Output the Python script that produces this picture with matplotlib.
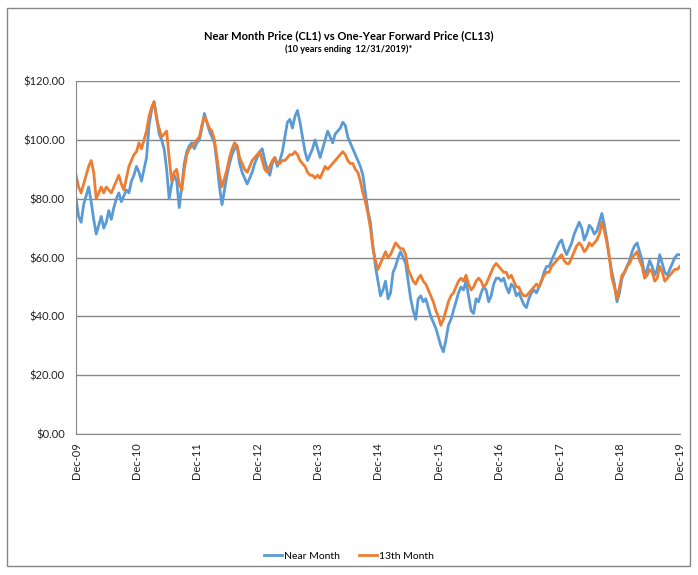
import numpy as np
import pandas as pd
import matplotlib
matplotlib.use('Agg')
import matplotlib.pyplot as plt
import matplotlib.dates as mdates
from matplotlib.patches import Rectangle
from matplotlib.ticker import FuncFormatter

# semi-monthly readings, Dec 2009 .. Dec 2019
near_month = [
    80, 74, 72, 78, 81, 84, 79, 73, 68, 71, 74, 70, 72, 76, 73, 77, 80, 82, 79, 81, 83, 82, 86, 88,
    91, 89, 86, 90, 94, 105, 110, 113, 108, 102, 100, 97, 90, 80, 85, 88, 86, 77, 84, 92, 96, 98, 99, 97,
    99, 100, 104, 109, 106, 103, 101, 99, 92, 84, 78, 83, 88, 92, 95, 97, 98, 92, 89, 87, 85, 87, 89, 92,
    94, 96, 97, 93, 90, 88, 92, 94, 91, 93, 96, 101, 106, 107, 104, 108, 110, 106, 101, 96, 93, 95, 97, 100,
    97, 94, 97, 100, 103, 101, 99, 102, 103, 104, 106, 105, 101, 99, 97, 95, 93, 91, 88, 82, 76, 72, 64, 57,
    52, 47, 49, 52, 46, 48, 55, 57, 60, 62, 60, 58, 52, 46, 42, 39, 46, 47, 45, 46, 43, 40, 38, 36,
    33, 30, 28, 32, 37, 39, 42, 45, 48, 50, 49, 52, 47, 42, 41, 46, 45, 48, 50, 49, 45, 47, 51, 53,
    53, 52, 53, 50, 48, 51, 50, 47, 48, 46, 44, 43, 46, 48, 49, 48, 50, 52, 55, 57, 57, 59, 61, 63,
    65, 66, 63, 61, 63, 65, 68, 70, 72, 70, 66, 68, 71, 70, 68, 69, 72, 75, 71, 66, 60, 55, 51, 45,
    48, 53, 55, 57, 59, 62, 64, 65, 62, 59, 54, 56, 59, 57, 54, 56, 61, 58, 55, 54, 56, 58, 60, 61,
    61,
]
month_13 = [
    88, 84, 82, 85, 88, 91, 93, 89, 80, 82, 84, 82, 84, 83, 82, 84, 86, 88, 85, 83, 87, 91, 93, 95,
    96, 99, 97, 100, 103, 108, 111, 113, 107, 104, 101, 102, 103, 94, 86, 89, 90, 85, 83, 90, 95, 97, 98, 99,
    100, 101, 105, 108, 106, 104, 103, 100, 94, 88, 84, 87, 90, 94, 97, 99, 98, 94, 92, 90, 89, 91, 93, 94,
    95, 96, 93, 90, 89, 91, 93, 94, 92, 92, 93, 93, 94, 95, 95, 96, 95, 93, 92, 91, 89, 88, 88, 87,
    88, 87, 89, 91, 90, 91, 92, 93, 94, 95, 96, 95, 93, 92, 92, 90, 89, 86, 82, 79, 75, 70, 63, 59,
    56, 58, 60, 62, 60, 61, 63, 65, 64, 63, 63, 61, 56, 54, 52, 51, 53, 54, 52, 51, 49, 47, 45, 42,
    40, 37, 39, 42, 45, 47, 48, 50, 52, 53, 52, 54, 51, 49, 50, 52, 53, 52, 50, 51, 53, 55, 57, 58,
    57, 56, 55, 55, 53, 54, 52, 50, 50, 48, 47, 47, 48, 49, 50, 51, 50, 52, 54, 55, 55, 57, 58, 59,
    60, 61, 59, 58, 58, 60, 62, 64, 65, 64, 62, 63, 65, 64, 65, 66, 68, 72, 69, 65, 60, 53, 50, 46,
    50, 54, 55, 57, 58, 60, 61, 62, 59, 57, 53, 54, 56, 55, 52, 53, 57, 55, 52, 53, 54, 55, 56, 56,
    57,
]
dates = pd.date_range('2009-12-31', '2019-12-31', periods=len(near_month))
tick_dates = pd.date_range('2009-12-31', '2019-12-31', freq='YE')

plt.rcParams['font.family'] = ['Lato', 'DejaVu Sans']

fig = plt.figure(figsize=(6.98, 5.75), dpi=100)
ax = fig.add_axes([0.109, 0.245, 0.865, 0.614])

ax.plot(dates, near_month, color='#5B9BD5', lw=2.0, label='Near Month')
ax.plot(dates, month_13, color='#ED7D31', lw=2.0, label='13th Month')

ax.set_ylim(0, 120)
ax.set_yticks(np.arange(0, 121, 20))
ax.yaxis.set_major_formatter(FuncFormatter(lambda v, p: f'${v:.2f}'))
ax.set_xlim(dates[0], dates[-1])
ax.set_xticks(tick_dates)
ax.xaxis.set_major_formatter(mdates.DateFormatter('%b-%y'))
plt.setp(ax.get_xticklabels(), rotation=90)

ax.grid(axis='y', color='#868686', lw=1)
ax.set_axisbelow(True)
for s in ['top', 'right']:
    ax.spines[s].set_visible(False)
for s in ['left', 'bottom']:
    ax.spines[s].set_color('#868686')
ax.tick_params(axis='both', length=0, labelsize=8, colors='#222222')
ax.tick_params(axis='y', pad=8)
ax.tick_params(axis='x', pad=6)

fig.text(0.5, 0.938, 'Near Month Price (CL1) vs One-Year Forward Price (CL13)',
         ha='center', va='center', fontsize=8, fontweight='bold')
fig.text(0.5, 0.914, '(10 years ending  12/31/2019)*',
         ha='center', va='center', fontsize=6.5, fontweight='bold')

fig.legend(loc='center', bbox_to_anchor=(0.5, 0.033), ncol=2, frameon=False,
           fontsize=7.5, handlelength=1.7, columnspacing=1.8, handletextpad=0.2)

fig.patches.append(Rectangle((0.01, 0.016), 0.979, 0.970, transform=fig.transFigure,
                             fill=False, edgecolor='#868686', lw=1))

fig.savefig('out.png', dpi=100)
